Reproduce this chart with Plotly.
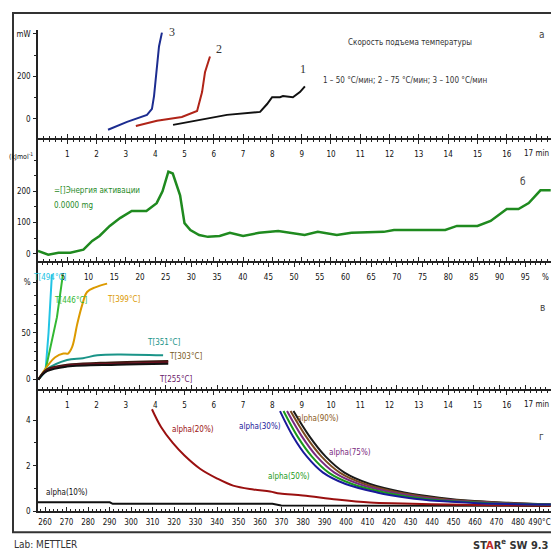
import plotly.graph_objects as go

W, H = 551, 558

# ---------------- data ----------------
# Panel a : heat flow (mW) vs time (min)
t_c3 = [2.39, 3.04, 3.72, 3.89, 3.96, 4.06, 4.13, 4.23]
v_c3 = [-51, -14, 19, 47, 107, 247, 340, 405]
t_c2 = [3.34, 4.06, 4.91, 5.43, 5.6, 5.7, 5.87]
v_c2 = [-33, -9, 9, 37, 126, 219, 293]
t_c1 = [4.61, 5.53, 6.45, 7.58, 7.82, 7.99, 8.26, 8.36, 8.7, 8.94, 9.11]
v_c1 = [-28, -5, 19, 33, 70, 102, 102, 107, 102, 126, 153]

# Panel b : activation energy vs time (min)
t_ea = [0, 0.35, 0.7, 1.1, 1.55, 1.85, 2.1, 2.45, 2.8, 3.2, 3.7, 4.05, 4.25, 4.45,
        4.6, 4.85, 5.0, 5.2, 5.5, 5.8, 6.2, 6.55, 7.0, 7.55, 8.2, 8.6, 9.1, 9.55,
        10.2, 10.7, 11.8, 12.15, 13.05, 13.9, 14.3, 15.0, 15.45, 16.0, 16.4, 16.75,
        17.15, 17.5]
v_ea = [9, -3, 3, 3, 13, 41, 57, 89, 114, 137, 137, 162, 200, 263,
        257, 187, 98, 76, 60, 54, 57, 67, 57, 67, 73, 67, 60, 70,
        60, 67, 70, 76, 76, 76, 89, 89, 105, 143, 143, 162,
        203, 203]

# Panel v : conversion curves vs %
x_494 = [0.2, 1.6, 2.2, 2.86]
y_494 = [0, 8.5, 50, 113]
x_446 = [0.2, 1.6, 3.84, 5.0]
y_446 = [0, 10, 67, 113]
x_399 = [0.2, 1.9, 3.5, 5.1, 6.0, 6.8, 7.8, 8.8, 9.7, 11.3, 13.6]
y_399 = [0, 14, 24, 28, 28, 35, 60, 81, 94, 99, 103]
x_351 = [0.2, 1.9, 5.8, 8.9, 11.7, 15.6, 24.5]
y_351 = [0, 11, 21, 23, 26, 27, 26]
x_303 = [0.2, 1.9, 5.8, 12.3, 25.5]
y_303 = [0, 11, 16, 18, 20]
x_255 = [0.2, 1.9, 5.8, 15.6, 25.5]
y_255 = [0, 9, 14, 16, 17]
x_255b = [0.2, 1.9, 5.8, 15.6, 25.5]
y_255b = [0, 10, 15, 17, 18.5]

# Panel g : time to reach conversion (min) vs time/temperature
t_a10 = [0, 2.45, 2.55, 8.0, 8.3, 17.5]
v_a10 = [0.4, 0.4, 0.33, 0.33, 0.26, 0.24]
t_a20 = [3.89, 4.2, 4.6, 5.0, 5.53, 6.1, 6.66, 7.35, 7.92, 8.26, 9.04, 10.2, 11.33, 12.45, 14.0, 15.5, 17.5]
v_a20 = [4.48, 3.7, 3.0, 2.45, 1.87, 1.45, 1.13, 0.96, 0.87, 0.78, 0.70, 0.52, 0.39, 0.35, 0.30, 0.27, 0.25]
v_dec = [4.4, 3.3, 2.4, 1.7, 1.2, 0.83, 0.6, 0.45, 0.36, 0.3]
t_a30 = [8.26, 8.7, 9.18, 9.73, 10.5, 11.57, 12.6, 13.7, 15.0, 17.5]
t_a50 = [8.38, 8.85, 9.35, 9.92, 10.72, 11.82, 12.9, 14.0, 15.4, 17.5]
t_a75 = [8.5, 9.0, 9.52, 10.12, 10.95, 12.08, 13.2, 14.35, 15.8, 17.5]
t_a90 = [8.62, 9.14, 9.68, 10.3, 11.15, 12.3, 13.45, 14.65, 16.1, 17.5]
t_a95 = [8.72, 9.26, 9.82, 10.46, 11.33, 12.5, 13.7, 14.9, 16.4, 17.5]

min_ticks = list(range(0, 17))
pct_ticks = list(range(5, 100, 5))
temp_ticks = list(range(260, 500, 10))
temp_text = [str(v) for v in temp_ticks[:-1]] + ["490°C"]

# ---------------- layout helpers ----------------
FONT = "DejaVu Sans Condensed, Liberation Sans Narrow, Roboto Condensed, sans-serif"
AXC = "#222222"

def py2y(py):
    return 1 - py / H

XD = [38 / W, 1.0]
D1 = [py2y(139), py2y(30)]
D2 = [py2y(263), py2y(141)]
D3 = [py2y(393), py2y(265)]
D4 = [py2y(516), py2y(395)]

TF = dict(family=FONT, size=8, color="#111111")

def xax(anchor, rng, side, labels, tickvals, ticktext=None, mirror="ticks", minor_dtick=0.2):
    d = dict(anchor=anchor, domain=XD, range=rng, side=side, showline=True,
             linecolor=AXC, linewidth=2, mirror=mirror, ticks="inside", ticklen=4,
             tickwidth=1, tickcolor=AXC, showgrid=False, zeroline=False,
             tickvals=tickvals, showticklabels=labels, tickfont=TF,
             minor=dict(ticks="inside", ticklen=2, dtick=minor_dtick, tickcolor=AXC, showgrid=False))
    if ticktext is not None:
        d["ticktext"] = ticktext
    if labels:
        d["ticklabelposition"] = "inside"
        d["ticklabelstandoff"] = 6
    return d

def yax(anchor, dom, rng, tickvals, ticktext, minorvals):
    return dict(anchor=anchor, domain=dom, range=rng, showline=True, linecolor=AXC,
                linewidth=1.5, ticks="outside", ticklen=3, tickcolor=AXC,
                tickvals=tickvals, ticktext=ticktext, tickfont=dict(family=FONT, size=8, color="#111111"),
                ticklabeloverflow="allow", ticklabelstandoff=1,
                showgrid=False, zeroline=False,
                minor=dict(ticks="outside", ticklen=2, tickvals=minorvals, tickcolor=AXC, showgrid=False))

fig = go.Figure()

def line(x, y, color, xa, ya, width=2, shape="linear"):
    fig.add_trace(go.Scatter(x=x, y=y, mode="lines", xaxis=xa, yaxis=ya,
                             line=dict(color=color, width=width, shape=shape),
                             hoverinfo="skip", showlegend=False))

# panel a
line(t_c3, v_c3, "#1c2c90", "x", "y")
line(t_c2, v_c2, "#b02418", "x", "y")
line(t_c1, v_c1, "#111111", "x", "y")
# panel b
line(t_ea, v_ea, "#1f8a1f", "x2", "y2", width=2.5)
# panel v
line(x_494, y_494, "#22c4e4", "x3", "y3")
line(x_446, y_446, "#33b833", "x3", "y3")
line(x_399, y_399, "#dc9a00", "x3", "y3", shape="spline")
line(x_351, y_351, "#1a9488", "x3", "y3", shape="spline")
line(x_303, y_303, "#3a1a10", "x3", "y3", shape="spline")
line(x_255b, y_255b, "#6a1020", "x3", "y3", shape="spline")
line(x_255, y_255, "#111111", "x3", "y3", shape="spline")
# panel g
line(t_a10, v_a10, "#111111", "x4", "y4")
line(t_a20, v_a20, "#9a1010", "x4", "y4", shape="spline")
line(t_a95, v_dec, "#1a1a1a", "x4", "y4", shape="spline")
line(t_a90, v_dec, "#7a4a20", "x4", "y4", shape="spline")
line(t_a75, v_dec, "#7a2a80", "x4", "y4", shape="spline")
line(t_a50, v_dec, "#1a9a1a", "x4", "y4", shape="spline")
line(t_a30, v_dec, "#1a1a9a", "x4", "y4", shape="spline")
# temperature axis carrier (no visible marks)
fig.add_trace(go.Scatter(x=[temp_ticks[0], temp_ticks[-1]], y=[None, None], mode="lines",
                         xaxis="x5", yaxis="y4", hoverinfo="skip", showlegend=False))

fig.update_layout(
    width=W, height=H, margin=dict(l=0, r=0, t=0, b=0),
    paper_bgcolor="white", plot_bgcolor="white",
    font=dict(family=FONT, color="#111111"),
    xaxis=xax("y", [0, 17.51], "bottom", False, min_ticks + [17], mirror=False),
    yaxis=yax("x", D1, [-88.4, 418.6], [0, 200, 400], ["0", "200", "mW"], [100, 300]),
    xaxis2=xax("y2", [0, 17.51], "top", True, min_ticks),
    yaxis2=yax("x2", D2, [-22.2, 365.1], [0, 100, 200], ["0", "100", "200"], [50, 150, 250, 300]),
    xaxis3=xax("y3", [0.15, 100.0], "top", True, pct_ticks, minor_dtick=1),
    yaxis3=yax("x3", D3, [-10.6, 125.5], [0, 50, 104], ["0", "50", "%"], [10, 20, 30, 40, 60, 70, 80, 90]),
    xaxis4=xax("y4", [0, 17.51], "top", True, min_ticks, mirror=False),
    yaxis4=yax("x4", D4, [0, 5.26], [0, 2, 4, 4.57], ["0", "2", "4", "min"], [1, 3]),
    xaxis5=dict(anchor="y4", overlaying="x4", side="bottom", range=[256.74, 495.35],
                showline=True, linecolor=AXC, linewidth=2, ticks="inside", ticklen=4,
                tickcolor=AXC, tickvals=temp_ticks, ticktext=temp_text, tickfont=TF,
                ticklabeloverflow="allow", ticklabelstandoff=2,
                showgrid=False, zeroline=False,
                minor=dict(ticks="inside", ticklen=2, dtick=2, tickcolor=AXC, showgrid=False)),
)

def ann(text, x, y, xa, ya, color="#111111", size=8, family=FONT, xanchor="center"):
    fig.add_annotation(text=text, x=x, y=y, xref=xa, yref=ya, showarrow=False,
                       xanchor=xanchor, yanchor="middle",
                       font=dict(family=family, size=size, color=color))

SERIF = "Liberation Serif, DejaVu Serif, serif"
# panel a texts
ann("3", 4.57, 409, "x", "y", size=12, family=SERIF, color="#333333")
ann("2", 6.18, 326, "x", "y", size=12, family=SERIF, color="#333333")
ann("1", 9.04, 233, "x", "y", size=12, family=SERIF, color="#333333")
ann("Скорость подъема температуры", 12.7, 358, "x", "y", size=8, color="#333333")
ann("1 – 50 °С/мин; 2 – 75 °С/мин; 3 – 100 °С/мин", 12.53, 181, "x", "y", size=8, color="#333333")
ann("а", 17.2, 395, "x", "y", size=10, color="#444444")
# panel b texts
ann("(kJmol<sup>-1</sup>", 35 / W, py2y(157), "paper", "paper", size=7, xanchor="right")
ann("=[]Энергия активации", 0.48, 203, "x2", "y2", color="#1f8a1f", size=8, xanchor="left")
ann("0.0000 mg", 0.48, 156, "x2", "y2", color="#1f8a1f", size=8, xanchor="left")
ann("б", 16.55, 232, "x2", "y2", size=10, color="#444444")
ann("17 min", 17.51, 322, "x2", "y2", size=8, xanchor="right")
# panel v texts
ann("T[494°C]", 2.4, 110, "x3", "y3", color="#22c4e4")
ann("T[446°C]", 6.56, 85, "x3", "y3", color="#33b833")
ann("T[399°C]", 16.8, 86, "x3", "y3", color="#dc9a00")
ann("T[351°C]", 24.7, 40, "x3", "y3", color="#1a9488")
ann("T[303°C]", 29.0, 24.5, "x3", "y3", color="#7a5a1a")
ann("T[255°C]", 27.0, 0, "x3", "y3", color="#6a1a6a")
ann("в", 98.3, 77.7, "x3", "y3", size=10, color="#444444")
ann("%", 100.0, 110, "x3", "y3", size=8, xanchor="right")
# panel g texts
ann("alpha(10%)", 0.99, 0.83, "x4", "y4", color="#111111")
ann("alpha(20%)", 5.29, 3.6, "x4", "y4", color="#9a1010")
ann("alpha(30%)", 7.58, 3.74, "x4", "y4", color="#1a1a9a")
ann("alpha(90%)", 9.56, 4.09, "x4", "y4", color="#8a5a20")
ann("alpha(75%)", 10.65, 2.57, "x4", "y4", color="#7a2a80")
ann("alpha(50%)", 8.57, 1.52, "x4", "y4", color="#1a9a1a")
ann("г", 17.17, 3.3, "x4", "y4", size=10, color="#444444")
ann("17 min", 17.51, 4.7, "x4", "y4", size=8, xanchor="right")

# footer
fig.add_annotation(text="Lab: METTLER", x=12 / W, y=py2y(549), xref="paper", yref="paper",
                   xanchor="left", yanchor="middle", showarrow=False,
                   font=dict(family=FONT, size=10, color="#333333"))
fig.add_annotation(text="<b>ST<span style='color:#c02828'>A</span>R<sup>e</sup> SW 9.3</b>",
                   x=1.0, y=py2y(549), xref="paper", yref="paper",
                   xanchor="right", yanchor="middle", showarrow=False,
                   font=dict(family=FONT, size=11, color="#333333"))

# outer frame
fig.add_shape(type="rect", xref="paper", yref="paper", x0=13 / W, x1=1.02,
              y0=py2y(537), y1=py2y(13), line=dict(color="#333333", width=2))

fig.write_html("out.html")
